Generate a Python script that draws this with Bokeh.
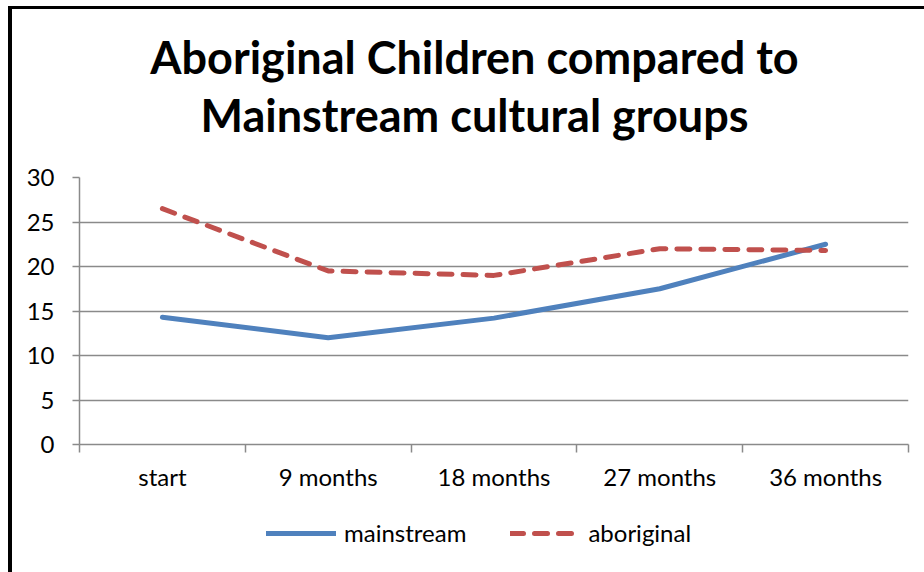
from bokeh.plotting import figure
from bokeh.layouts import column
from bokeh.models import (FixedTicker, Legend, LegendItem, Label, Range1d)
from bokeh.embed import file_html
from bokeh.resources import INLINE

categories = ["start", "9 months", "18 months", "27 months", "36 months"]
mainstream = [14.3, 12.0, 14.2, 17.5, 22.5]
aboriginal = [26.5, 19.5, 19.0, 22.0, 21.8]
y_ticks = [0, 5, 10, 15, 20, 25, 30]
title_lines = ["Aboriginal Children compared to", "Mainstream cultural groups"]

FONT = "Lato"
GRID = "#8a8a8a"
BLUE = "#4F81BD"
RED = "#C0504D"
W = 912
LEFT, RIGHT = 67, 16
FRAME_W = W - LEFT - RIGHT
TITLE_H = 150


def blank_strip(height):
    """A figure with no axes; its frame lines up with the chart's frame."""
    f = figure(width=W, height=height, output_backend="svg", toolbar_location=None,
               x_axis_type=None, y_axis_type=None, min_border=0,
               min_border_left=LEFT, min_border_right=RIGHT,
               x_range=Range1d(0, FRAME_W), y_range=Range1d(0, height))
    f.grid.visible = False
    f.outline_line_color = None
    f.border_fill_color = "white"
    return f


# heading: two bold centred lines
head = blank_strip(TITLE_H)
for text, baseline in zip(title_lines, [47, 105]):
    head.add_layout(Label(x=395, y=TITLE_H - baseline, text=text, text_align="center",
                          text_baseline="alphabetic", text_font=FONT,
                          text_font_style="bold", text_font_size="45px",
                          text_color="black"))

# category slots are one unit wide; points sit in the middle of each slot
xs = [i + 0.5 for i in range(len(categories))]

p = figure(width=W, height=345, output_backend="svg", toolbar_location=None,
           x_range=Range1d(0, len(categories)), y_range=Range1d(0, 30),
           min_border_left=LEFT, min_border_right=RIGHT, min_border_top=18,
           min_border_bottom=60)
p.outline_line_color = None
p.background_fill_color = "white"
p.border_fill_color = "white"

# x axis: labels in slot middles, small ticks at slot boundaries
p.xaxis.ticker = FixedTicker(ticks=xs, minor_ticks=list(range(len(categories) + 1)))
p.xaxis.major_label_overrides = {x: c for x, c in zip(xs, categories)}
p.xaxis.major_tick_line_color = None
p.xaxis.minor_tick_line_color = GRID
p.xaxis.minor_tick_line_width = 1.5
p.xaxis.minor_tick_out = 8
p.xaxis.minor_tick_in = 0
p.xaxis.axis_line_color = GRID
p.xaxis.axis_line_width = 1.5
p.xaxis.major_label_standoff = 9
p.xaxis.major_label_text_font = FONT
p.xaxis.major_label_text_font_size = "24px"
p.xaxis.major_label_text_color = "black"
p.xgrid.grid_line_color = None

p.yaxis.ticker = FixedTicker(ticks=y_ticks, minor_ticks=[])
p.yaxis.axis_line_color = GRID
p.yaxis.axis_line_width = 1.5
p.yaxis.major_tick_line_color = GRID
p.yaxis.major_tick_line_width = 1.5
p.yaxis.major_tick_out = 7
p.yaxis.major_tick_in = 0
p.yaxis.major_label_standoff = 18
p.yaxis.major_label_text_font = FONT
p.yaxis.major_label_text_font_size = "24px"
p.yaxis.major_label_text_color = "black"
p.ygrid.ticker = FixedTicker(ticks=y_ticks)
p.ygrid.grid_line_color = GRID
p.ygrid.grid_line_width = 1.5

line_main = dict(line_color=BLUE, line_width=5, line_cap="round", line_join="round")
line_abo = dict(line_color=RED, line_width=5, line_cap="round", line_join="round",
                line_dash="13 11")
p.line(xs, mainstream, **line_main)
p.line(xs, aboriginal, **line_abo)

# legend strip underneath the plot; its key lines lie outside the strip's view
lg = blank_strip(68)
k_main = lg.line(xs, mainstream, **line_main)
k_abo = lg.line(xs, aboriginal, **line_abo)
lg.y_range = Range1d(-2, -1)
legend = Legend(items=[LegendItem(label="mainstream", renderers=[k_main]),
                       LegendItem(label="aboriginal", renderers=[k_abo])],
                orientation="horizontal", location=(187, 25),
                glyph_width=70, glyph_height=24, label_standoff=8, spacing=44,
                padding=0, margin=0, border_line_color=None,
                background_fill_alpha=0,
                label_text_font=FONT, label_text_font_size="24px",
                label_text_color="black")
lg.add_layout(legend, "center")

page = column(head, p, lg, spacing=0,
              styles={"margin-left": "8px", "margin-top": "6px",
                      "border-left": "4px solid black", "border-top": "3px solid black"})

open("out.html", "w").write(file_html(page, INLINE))
